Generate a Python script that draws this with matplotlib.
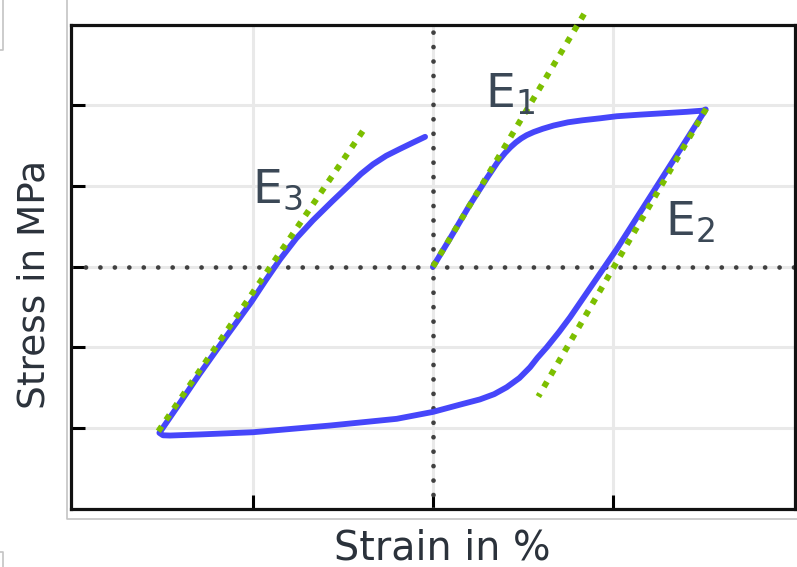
import matplotlib
matplotlib.use("Agg")
import matplotlib.pyplot as plt
from matplotlib.lines import Line2D

# hysteresis loop (strain, stress)
strain = [0.0, 0.10, 0.20, 0.30, 0.36, 0.40, 0.43, 0.46, 0.49, 0.52, 0.56, 0.61,
          0.67, 0.75, 0.83, 0.93, 1.02, 1.15, 1.30, 1.41, 1.50, 1.515,
          1.30, 1.021, 0.889, 0.761, 0.70, 0.632, 0.58, 0.539, 0.48, 0.409,
          0.34, 0.261, 0.15, 0.0,
          -0.202, -0.572, -1.0, -1.30, -1.461, -1.50, -1.52,
          -1.40, -1.30, -1.15, -1.01, -0.93, -0.85, -0.76, -0.667, -0.56, -0.461,
          -0.40, -0.333, -0.26, -0.183, -0.11, -0.044]
stress = [0.0, 0.37, 0.75, 1.10, 1.30, 1.41, 1.48, 1.54, 1.59, 1.63, 1.67, 1.71,
          1.75, 1.79, 1.815, 1.84, 1.865, 1.885, 1.905, 1.92, 1.935, 1.95,
          1.195, 0.219, -0.211, -0.628, -0.81, -0.999, -1.13, -1.247, -1.38, -1.495,
          -1.58, -1.645, -1.71, -1.80,
          -1.886, -1.969, -2.052, -2.08, -2.093, -2.09, -2.06,
          -1.67, -1.34, -0.87, -0.44, -0.17, 0.09, 0.35, 0.575, 0.81, 1.02,
          1.15, 1.27, 1.375, 1.461, 1.54, 1.61]

# tangent lines (start, end)
e1_x = [0.0, 0.844]
e1_y = [0.0, 3.15]
e2_x = [1.517, 0.585]
e2_y = [1.957, -1.61]
e3_x = [-1.526, -0.389]
e3_y = [-2.04, 1.684]

labels = [r'$\mathregular{E_1}$', r'$\mathregular{E_2}$', r'$\mathregular{E_3}$']
label_x = [0.289, 1.289, -1.006]
label_y = [1.97, 0.384, 0.797]

fig = plt.figure(figsize=(7.97, 5.67), dpi=100)
ax = fig.add_axes([71/797, 1 - 508.7/567, 724/797, 484/567])

ax.set_xlim(-2.011, 2.011)
ax.set_ylim(-3.0, 3.0)
ax.set_xticks([-1, 0, 1])
ax.set_yticks([-2, -1, 0, 1, 2])
ax.set_xticklabels([])
ax.set_yticklabels([])
ax.tick_params(direction='in', length=10, width=2.2, color='black')
ax.grid(True, color='#e9e9e9', lw=2.2)
ax.set_axisbelow(True)
for s in ax.spines.values():
    s.set_linewidth(2.3)
    s.set_color('#111111')

ax.axhline(0, color='#404040', lw=3.4, ls=(0, (0.01, 3.05)), dash_capstyle='round', zorder=2)
ax.axvline(0, color='#404040', lw=3.4, ls=(0, (0.01, 3.05)), dash_capstyle='round', zorder=2)

ax.plot(strain, stress, color='#4646fa', lw=4.2, solid_joinstyle='round',
        solid_capstyle='round', zorder=3)

green = '#7cbf00'
for xs, ys in [(e1_x, e1_y), (e2_x, e2_y), (e3_x, e3_y)]:
    ax.plot(xs, ys, color=green, lw=4.3, ls=(0, (1, 1.3)), clip_on=False, zorder=4)

for t, x, y in zip(labels, label_x, label_y):
    ax.text(x, y, t, fontsize=34, color='#3b4856', ha='left', va='baseline', zorder=5)

fig.text(442/797, 1 - 559/567, 'Strain in %', fontsize=28.5, color='#2b323b',
         ha='center', va='baseline')
fig.text(35/797, 1 - 284/567, 'Stress in MPa', fontsize=27, color='#2b323b',
         ha='center', va='center', rotation=90)

# gray frame bits of the original screenshot
gray = '#c4c4c4'
def px_line(xs, ys):
    fig.add_artist(Line2D([x / 797 for x in xs], [1 - y / 567 for y in ys],
                          color=gray, lw=1.2))
px_line([67.3, 67.3, 797], [0, 519.3, 519.3])
px_line([0, 3, 3], [50, 50, 0])
px_line([0, 3, 3], [552, 552, 567])

fig.savefig('out.png', dpi=100)
